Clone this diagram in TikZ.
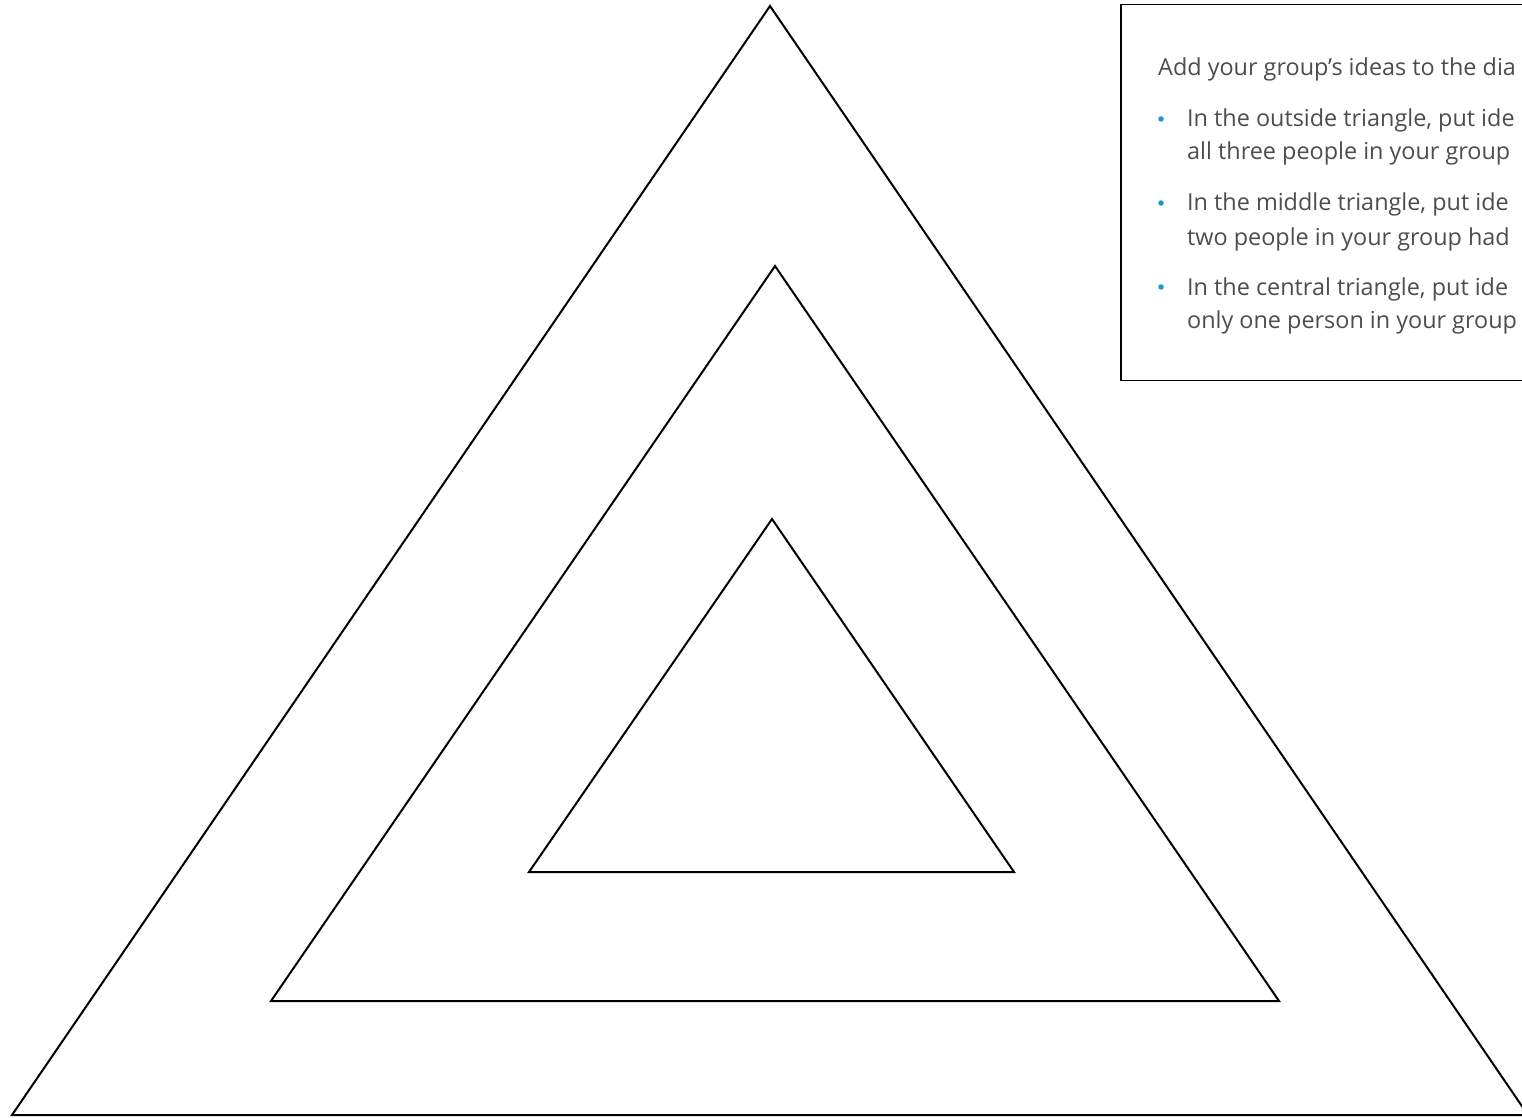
\documentclass[tikz,border=0pt]{standalone}
\usepackage{fontspec}
\setmainfont{Open Sans}
\definecolor{txtgrey}{HTML}{4D4D4F}
\definecolor{bulletblue}{HTML}{1A9BD0}
\begin{document}
\begin{tikzpicture}[x=1pt,y=-1pt,
  tri/.style={draw=black,line width=2pt,line join=miter},
  txt/.style={anchor=base west,inner sep=0pt,text=txtgrey,font=\fontsize{23.4}{28}\selectfont},
  dot/.style={circle,fill=bulletblue,inner sep=0pt,minimum size=5.5pt}]
\useasboundingbox (0,0) rectangle (1522,1118);
\clip (0,0) rectangle (1522,1118);
% triangles
\coordinate (oA) at (770,6); \coordinate (oL) at (12,1115); \coordinate (oR) at (1528,1115);
\coordinate (mA) at (775,266); \coordinate (mL) at (271,1001); \coordinate (mR) at (1279,1001);
\coordinate (iA) at (772,519); \coordinate (iL) at (529,872); \coordinate (iR) at (1014,872);
\draw[tri] (oA) -- (oL) -- (oR) -- cycle;
\draw[tri] (mA) -- (mL) -- (mR) -- cycle;
\draw[tri] (iA) -- (iL) -- (iR) -- cycle;
% box
\draw[line width=1.2pt,fill=white] (1121,4.5) rectangle (1560,380.5);
\node[txt] (t0) at (1158,76) {Add your group’s ideas to the dia};
\node[dot] (b1) at (1161,119) {};
\node[txt] (t1) at (1187,127) {In the outside triangle, put ide};
\node[txt] (t1b) at (1187,160) {all three people in your group};
\node[dot] (b2) at (1161,203) {};
\node[txt] (t2) at (1187,211) {In the middle triangle, put ide};
\node[txt] (t2b) at (1187,245) {two people in your group had};
\node[dot] (b3) at (1161,287) {};
\node[txt] (t3) at (1187,295) {In the central triangle, put ide};
\node[txt] (t3b) at (1187,328) {only one person in your group};
\end{tikzpicture}
\end{document}
